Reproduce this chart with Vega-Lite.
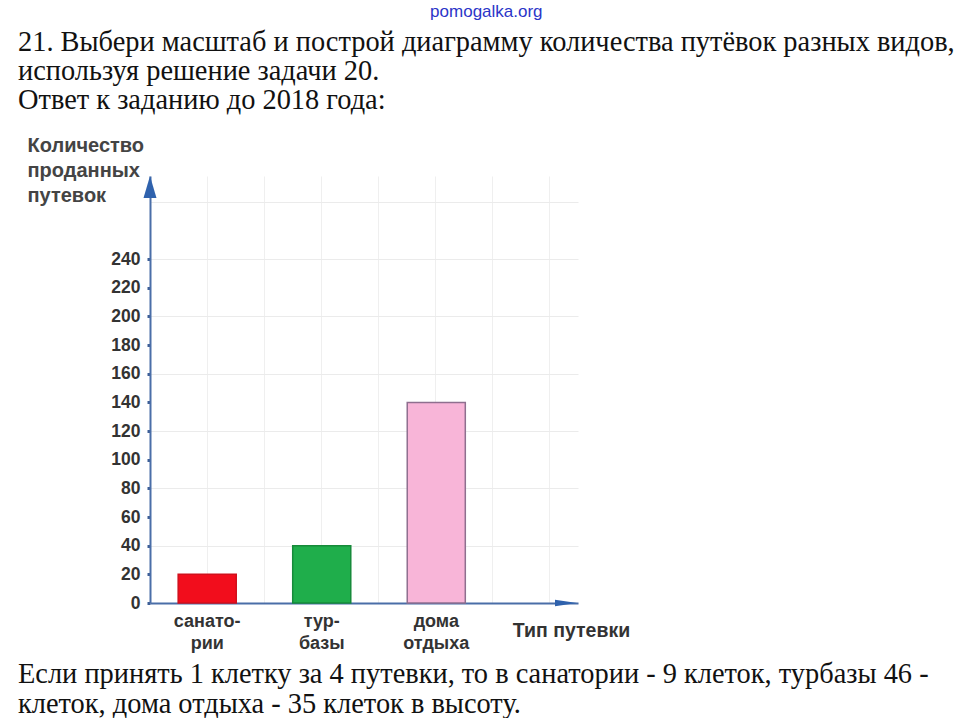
{
  "$schema": "https://vega.github.io/schema/vega-lite/v6.json",
  "background": "white",
  "padding": {"left": 18, "top": 2, "right": 0, "bottom": 0},
  "config": {
    "view": {"stroke": null},
    "concat": {"spacing": 0}
  },
  "title": {
    "text": "pomogalka.org",
    "orient": "top",
    "anchor": "middle",
    "font": "Liberation Sans",
    "fontSize": 17,
    "fontWeight": "normal",
    "color": "#2b35c8",
    "offset": 7
  },
  "vconcat": [
    {
      "title": {
        "text": [
          "Если принять 1 клетку за 4 путевки, то в санатории - 9 клеток, турбазы 46 -",
          "клеток, дома отдыха - 35 клеток в высоту."
        ],
        "orient": "bottom",
        "anchor": "start",
        "font": "Liberation Serif",
        "fontSize": 28.4,
        "fontWeight": "normal",
        "color": "#111111",
        "lineHeight": 29.5,
        "offset": 9
      },
      "vconcat": [
        {
          "title": {
            "text": [
              "21. Выбери масштаб и построй диаграмму количества путёвок разных видов,",
              "используя решение задачи 20.",
              "Ответ к заданию до 2018 года:"
            ],
            "orient": "top",
            "anchor": "start",
            "frame": "bounds",
            "font": "Liberation Serif",
            "fontSize": 28.4,
            "fontWeight": "normal",
            "color": "#111111",
            "lineHeight": 29,
            "offset": 20,
            "dx": -9
          },
          "width": 428,
          "height": 427,
          "data": {
            "values": [
              {"type": "санатории", "count": 20},
              {"type": "турбазы", "count": 40},
              {"type": "дома отдыха", "count": 140}
            ]
          },
          "resolve": {"scale": {"x": "independent"}, "axis": {"y": "independent"}},
          "layer": [
            {
              "mark": {"type": "bar", "strokeWidth": 1.5},
              "encoding": {
                "x": {
                  "field": "type",
                  "type": "nominal",
                  "sort": null,
                  "scale": {"paddingInner": 0.493, "paddingOuter": 0.615, "align": 0.2},
                  "axis": {
                    "labelAngle": 0,
                    "labelExpr": "datum.label == 'санатории' ? ['санато-', 'рии'] : datum.label == 'турбазы' ? ['тур-', 'базы'] : ['дома', 'отдыха']",
                    "ticks": false,
                    "domainColor": "#4a6ea8",
                    "domainWidth": 2,
                    "labelFont": "Liberation Sans",
                    "labelFontWeight": "bold",
                    "labelFontSize": 18,
                    "labelColor": "#333333",
                    "labelLineHeight": 22,
                    "labelPadding": 9,
                    "title": "Тип путевки",
                    "titleFont": "Liberation Sans",
                    "titleFontWeight": "bold",
                    "titleFontSize": 19.5,
                    "titleColor": "#333333",
                    "titleAlign": "center",
                    "titleBaseline": "alphabetic",
                    "titleX": 421,
                    "titleY": 33
                  }
                },
                "y": {
                  "field": "count",
                  "type": "quantitative",
                  "scale": {"domain": [0, 298], "nice": false},
                  "axis": {
                    "values": [0, 20, 40, 60, 80, 100, 120, 140, 160, 180, 200, 220, 240],
                    "grid": false,
                    "domainColor": "#4a6ea8",
                    "domainWidth": 2,
                    "tickColor": "#3d5f96",
                    "tickSize": 3,
                    "tickWidth": 3,
                    "labelFont": "Liberation Sans",
                    "labelFontWeight": "bold",
                    "labelFontSize": 17.5,
                    "labelColor": "#333333",
                    "labelPadding": 7,
                    "title": ["Количество", "проданных", "путевок"],
                    "titleAngle": 0,
                    "titleAlign": "left",
                    "titleBaseline": "alphabetic",
                    "titleX": -123,
                    "titleY": -25,
                    "titleFont": "Liberation Sans",
                    "titleFontSize": 20,
                    "titleFontWeight": "bold",
                    "titleColor": "#444444",
                    "titleLineHeight": 25
                  }
                },
                "color": {
                  "field": "type",
                  "type": "nominal",
                  "scale": {"domain": ["санатории", "турбазы", "дома отдыха"], "range": ["#f20d1c", "#1fae4b", "#f8b5d8"]},
                  "legend": null
                },
                "stroke": {
                  "field": "type",
                  "type": "nominal",
                  "scale": {"domain": ["санатории", "турбазы", "дома отдыха"], "range": ["#d0101c", "#178a3a", "#8f6f8f"]},
                  "legend": null
                }
              }
            },
            {
              "data": {"values": [{"mark": "y-arrow"}]},
              "mark": {"type": "point", "shape": "M0,-1L0.59,1L-0.59,1Z", "filled": true, "color": "#2f62ad", "size": 484, "opacity": 1},
              "encoding": {
                "x": {
                  "datum": 0,
                  "type": "quantitative",
                  "scale": {"domain": [0, 1]},
                  "axis": {
                    "values": [0.133, 0.266, 0.4, 0.533, 0.666, 0.8, 0.933],
                    "grid": true,
                    "gridColor": "#efefef",
                    "gridWidth": 1,
                    "labels": false,
                    "ticks": false,
                    "domain": false,
                    "title": null
                  }
                },
                "y": {
                  "datum": 290.3,
                  "type": "quantitative",
                  "scale": {"domain": [0, 298], "nice": false},
                  "axis": {
                    "orient": "left",
                    "values": [0, 40, 80, 120, 160, 200, 240, 280],
                    "grid": true,
                    "gridColor": "#ebebeb",
                    "gridWidth": 1,
                    "labels": false,
                    "ticks": false,
                    "domain": false,
                    "title": null
                  }
                }
              }
            },
            {
              "data": {"values": [{"mark": "x-arrow"}]},
              "mark": {"type": "point", "shape": "M1,0L-1,-0.3L-1,0.3Z", "filled": true, "color": "#2f62ad", "size": 484, "opacity": 1},
              "encoding": {
                "x": {"datum": 0.972, "type": "quantitative", "scale": {"domain": [0, 1]}, "axis": null},
                "y": {"datum": 0, "type": "quantitative", "scale": {"domain": [0, 298], "nice": false}, "axis": null}
              }
            }
          ]
        }
      ]
    }
  ]
}
